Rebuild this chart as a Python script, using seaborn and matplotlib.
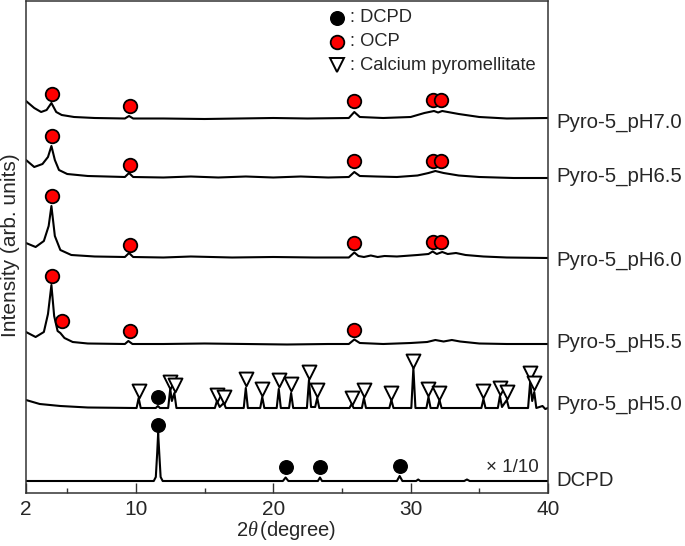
import numpy as np
import pandas as pd
import matplotlib
matplotlib.use("Agg")
import matplotlib.pyplot as plt
import seaborn as sns

# ---------------- data (2theta in degree, intensity in arb. units, offset stacked) -------------
ph70_x = [2.0, 2.6, 3.1, 3.5, 3.85, 4.2, 4.6, 5.5, 7.0, 9.2, 9.5, 9.8, 12.0, 15.0, 17.5, 20.0, 22.5,
          25.5, 25.9, 26.3, 28.0, 30.0, 31.0, 31.7, 32.0, 32.3, 33.5, 35.0, 37.0, 40.0]
ph70_y = [392, 385, 381, 383, 390, 381, 378, 376, 375, 374.5, 377, 374.5, 374.5, 374, 374.5, 375, 374.5,
          375, 381, 376, 375, 376, 380, 382, 380.5, 382, 379, 376, 374.5, 375]

ph65_x = [2.0, 2.6, 3.2, 3.6, 3.85, 4.1, 4.4, 5.0, 6.5, 9.2, 9.5, 9.8, 12.0, 14.0, 16.0, 18.0, 20.0,
          22.0, 24.0, 25.5, 25.9, 26.3, 27.5, 29.0, 30.5, 31.3, 31.8, 32.4, 33.5, 35.0, 37.5, 40.0]
ph65_y = [333, 326, 329, 336, 347, 333, 323, 319, 317, 316, 320, 316, 315.5, 316.5, 315.5, 316.5, 315.5,
          316.5, 315.5, 316, 321, 317, 316.5, 316, 317.5, 320, 322, 320, 317.5, 316, 315, 315]

ph60_x = [2.0, 2.7, 3.3, 3.65, 3.85, 4.1, 4.5, 5.3, 7.0, 9.2, 9.5, 9.8, 12.0, 14.0, 17.0, 20.0, 23.0,
          25.5, 25.9, 26.2, 26.6, 27.1, 27.6, 28.1, 29.0, 30.5, 31.3, 31.6, 31.9, 32.3, 32.7, 33.3,
          34.0, 35.3, 37.0, 40.0]
ph60_y = [250, 246, 252, 267, 287, 257, 243, 238, 236.5, 236, 240, 236, 235.5, 236.5, 235.5, 236, 235.5,
          235.5, 240.5, 237, 236, 237.5, 236, 237, 236.5, 238, 239, 241.5, 239, 241, 239, 240,
          238, 236.5, 235.5, 235]

ph55_x = [2.0, 2.7, 3.3, 3.6, 3.85, 4.05, 4.3, 4.5, 4.8, 5.4, 6.5, 9.2, 9.45, 9.75, 12.0, 15.0, 18.0,
          21.0, 24.0, 25.5, 25.9, 26.3, 28.0, 30.0, 31.2, 31.8, 32.4, 33.0, 33.6, 35.0, 37.0, 40.0]
ph55_y = [161, 156, 161, 179, 208, 177, 162, 160, 155, 151, 149.5, 149, 152, 149, 149, 149.5, 149,
          148.5, 149, 149, 153.5, 150, 149, 150, 151, 153, 151.5, 153, 151.5, 149.5, 149, 149]

ph50_x = [2.0, 3.0, 4.5, 6.5, 9.9, 10.05, 10.2, 10.35, 11.45, 11.6, 11.75, 12.35, 12.5, 12.62, 12.8,
          12.95, 15.75, 15.9, 16.1, 16.4, 16.55, 17.85, 18.0, 18.15, 19.05, 19.2, 19.35, 20.25, 20.4,
          20.55, 21.15, 21.3, 21.45, 22.45, 22.6, 22.75, 23.05, 23.2, 23.35, 25.55, 25.7, 25.85,
          26.45, 26.6, 26.75, 28.45, 28.6, 28.75, 30.05, 30.2, 30.35, 31.15, 31.3, 31.45, 31.95,
          32.1, 32.25, 35.15, 35.3, 35.45, 36.35, 36.5, 36.65, 37.0, 37.15, 38.55, 38.7, 38.85,
          39.0, 39.15, 39.6, 39.8, 40.0]
ph50_y = [93, 89, 87, 85.5, 85, 85, 95, 85, 85, 87, 85, 85, 104, 92, 100,
          85, 85, 92, 86, 90, 85, 85, 105, 85, 85, 96, 85, 85, 104,
          85, 85, 100, 85, 85, 113, 86, 86, 95, 85, 85, 89, 85,
          85, 95, 85, 85, 93, 85, 85, 125, 85, 85, 96, 85, 85,
          93, 85, 85, 94, 85, 85, 97, 86, 93, 85, 85, 111, 92,
          101, 85, 87, 84, 85]

dcpd_x = [2.0, 11.3, 11.45, 11.55, 11.62, 11.7, 11.8, 11.95, 20.7, 20.9, 21.1, 23.25, 23.4, 23.55,
          29.0, 29.2, 29.4, 30.4, 30.55, 30.7, 33.9, 34.1, 34.3, 40.0]
dcpd_y = [12, 12, 16, 40, 60, 40, 16, 12, 12, 15.5, 12, 12, 15.5, 12,
          12, 17, 12, 12, 13.5, 12, 12, 13.5, 12, 12]

sample_names = ["Pyro-5_pH7.0", "Pyro-5_pH6.5", "Pyro-5_pH6.0", "Pyro-5_pH5.5", "Pyro-5_pH5.0", "DCPD"]

# phase markers
ocp_x = [3.89, 9.55, 25.87, 31.62, 32.2,
         3.89, 9.55, 25.87, 31.62, 32.2,
         3.89, 9.55, 25.87, 31.62, 32.2,
         3.89, 4.62, 9.55, 25.87]
ocp_y = [399, 387, 392, 393, 393,
         357, 328, 332, 332, 332,
         297, 248, 250, 251, 251,
         217, 172, 162, 163]

dcpdm_x = [11.6, 11.6, 20.9, 23.4, 29.2]
dcpdm_y = [96, 68, 26, 26, 27]

cp_x = [10.2, 12.45, 12.85, 15.9, 16.4, 18.0, 19.2, 20.4, 21.3, 22.6, 23.2, 25.7, 26.6, 28.6, 30.2,
        31.3, 32.1, 35.3, 36.5, 37.0, 38.7, 39.0]
cp_y = [102, 111, 108, 98, 96, 114, 104, 113, 109, 121, 103, 95, 103, 100, 132,
        104, 100, 102, 105, 101, 120, 110]

legend_labels = [": DCPD", ": OCP", ": Calcium pyromellitate"]
xticks_major = [2, 10, 20, 30, 40]
xticks_minor = [5, 15, 25, 35]

# ---------------- build long table ----------------
curves_x = [ph70_x, ph65_x, ph60_x, ph55_x, ph50_x, dcpd_x]
curves_y = [ph70_y, ph65_y, ph60_y, ph55_y, ph50_y, dcpd_y]
frames = []
for name, xs, ys in zip(sample_names, curves_x, curves_y):
    frames.append(pd.DataFrame({"sample": name, "two_theta": xs, "intensity": ys,
                                "order": np.arange(len(xs))}))
df = pd.concat(frames, ignore_index=True)

# ---------------- style ----------------
sns.set_style("ticks")
plt.rcParams["font.family"] = ["Liberation Sans", "DejaVu Sans"]
plt.rcParams["mathtext.fontset"] = "custom"
plt.rcParams["mathtext.it"] = "Liberation Serif:italic"
plt.rcParams["mathtext.rm"] = "Liberation Sans"

fig = plt.figure(figsize=(6.85, 5.46), dpi=100)
ax = fig.add_axes([26 / 685, 53 / 546, 522 / 685, 492 / 546])

sns.lineplot(data=df, x="two_theta", y="intensity", units="sample", estimator=None, sort=False,
             color="black", linewidth=1.5, legend=False, ax=ax)

sns.scatterplot(x=ocp_x, y=ocp_y, marker="o", color="#ff0000", edgecolor="black",
                s=95, linewidth=1.3, zorder=4, ax=ax, legend=False)
sns.scatterplot(x=dcpdm_x, y=dcpdm_y, marker="o", color="black", edgecolor="black",
                s=95, linewidth=1.0, zorder=4, ax=ax, legend=False)
sns.scatterplot(x=cp_x, y=cp_y, marker="v", color="white", edgecolor="black",
                s=100, linewidth=1.4, zorder=4, ax=ax, legend=False)

# legend (manual)
leg_x = 24.63
leg_y = [475, 451, 428]
ax.plot([leg_x], [leg_y[0]], marker="o", ms=9.8, mfc="black", mec="black", mew=1.0, ls="none")
ax.plot([leg_x], [leg_y[1]], marker="o", ms=9.8, mfc="#ff0000", mec="black", mew=1.3, ls="none")
ax.plot([leg_x], [leg_y[2]], marker="v", ms=10, mfc="white", mec="black", mew=1.4, ls="none")
for yy, lab in zip(leg_y, legend_labels):
    ax.text(25.55, yy, lab, fontsize=13.2, va="center", ha="left")

ax.text(39.3, 26, "\u00d7 1/10", fontsize=13.5, va="center", ha="right")

# right-hand sample labels
label_offsets = [-4, 1, -2, 1, 3, 1]
for name, ys, off in zip(sample_names, curves_y, label_offsets):
    ax.text(1.017, ys[-1] + off, name, transform=ax.get_yaxis_transform(),
            fontsize=14.7, va="center", ha="left")

ax.set_xlim(2, 40)
ax.set_ylim(0, 492)
ax.set_xticks(xticks_major)
ax.set_xticks(xticks_minor, minor=True)
ax.set_xticklabels([str(t) for t in xticks_major])
ax.set_yticks([])
ax.set_xlabel("")
ax.set_ylabel("")
ax.tick_params(axis="x", which="major", direction="in", length=7, width=1.0, labelsize=15,
               pad=5, top=False, color="#333333")
ax.tick_params(axis="x", which="minor", direction="in", length=3.5, width=1.0, top=False,
               color="#333333")
for sp in ax.spines.values():
    sp.set_visible(True)
    sp.set_linewidth(1.1)
    sp.set_color("#333333")

fig.text(286 / 685, 1 - 531 / 546, r"2$\theta\,$(degree)", fontsize=14.5, ha="center", va="center")
fig.text(11 / 685, 1 - 245 / 546, "Intensity (arb. units)", fontsize=15, rotation=90,
         ha="center", va="center")

fig.savefig("out.png", dpi=100)
